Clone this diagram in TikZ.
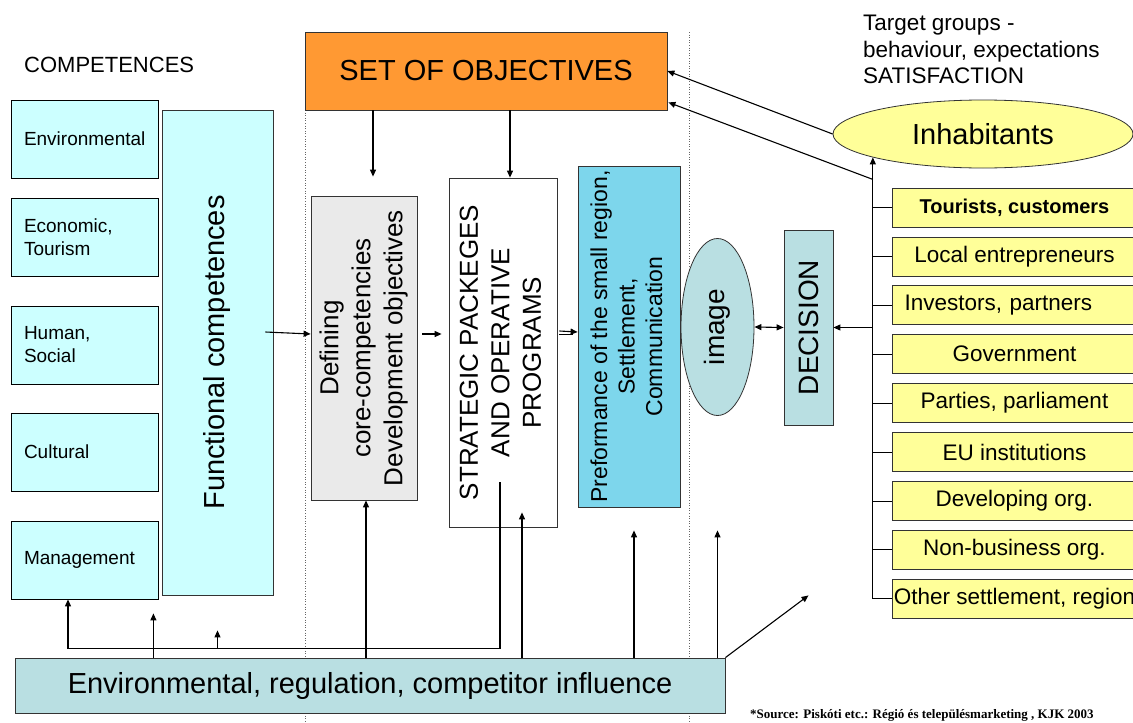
\documentclass[tikz,border=0pt]{standalone}
\usepackage{fontspec}
\setmainfont{Liberation Sans}
\newfontfamily\srcfont{Liberation Serif}
\usepackage{graphicx}
\usetikzlibrary{arrows.meta,calc,shapes.geometric}
\definecolor{compcyan}{HTML}{CCFFFF}
\definecolor{objorange}{HTML}{FF9933}
\definecolor{defgrey}{HTML}{EAEAEA}
\definecolor{perfblue}{HTML}{7DD6EC}
\definecolor{decteal}{HTML}{B9DFE2}
\definecolor{tgyellow}{HTML}{FFFF99}
\newcommand{\fsz}[2]{\fontsize{#1}{#2}\selectfont}
\newcommand{\vtext}[1]{\rotatebox{90}{\begin{tabular}{@{}c@{}}#1\end{tabular}}}

\begin{document}
\begin{tikzpicture}[
    x=1pt, y=-1pt,
    box/.style={rectangle, draw=black!80, line width=0.8pt, inner sep=0pt, align=center},
    comp/.style={box, draw=black, fill=compcyan, minimum width=147pt, minimum height=78pt, text width=121pt, align=left, font=\fsz{19}{23}},
    tgbox/.style={box, fill=tgyellow, minimum width=245pt, minimum height=39pt, font=\fsz{22.5}{26}},
    oval/.style={ellipse, draw=black!80, line width=0.8pt, inner sep=0pt},
    arrow/.style={-{Triangle[length=7pt,width=6pt]}, line width=1.1pt},
    dblarrow/.style={{Triangle[length=7pt,width=6pt]}-{Triangle[length=7pt,width=6pt]}, line width=1.1pt},
    tick/.style={line width=0.8pt},
    sep/.style={dotted, black!60, line width=0.6pt}
]
    \useasboundingbox (0,0) rectangle (1133,723);

    \draw[sep] (305,32) -- (305,723);
    \draw[sep] (689,32) -- (689,723);

    % competences
    \node[anchor=west, inner sep=0pt, font=\fsz{22}{26}] (comptitle) at (24,65) {COMPETENCES};
    \node[comp] (env) at (84.5,139) {Environmental};
    \node[comp] (eco) at (84.5,237) {Economic,\\Tourism};
    \node[comp] (hum) at (84.5,345) {Human,\\Social};
    \node[comp] (cul) at (84.5,452) {Cultural};
    \node[comp] (man) at (84.5,560) {Management};
    \node[box, fill=compcyan, minimum width=111pt, minimum height=485pt, font=\fsz{29}{34}] (func) at (217.5,352.5) {\vtext{Functional competences}};

    % middle column
    \node[box, fill=objorange, minimum width=362pt, minimum height=78pt, font=\fsz{29}{34}] (set) at (486,71) {SET OF OBJECTIVES};
    \node[box, fill=defgrey, minimum width=106pt, minimum height=304pt, font=\fsz{26}{32}] (def) at (364,348) {\vtext{Defining\\core-competencies\\Development objectives}};
    \node[box, fill=white, minimum width=108pt, minimum height=349pt, font=\fsz{26}{31.5}] (strat) at (503,352.5) {\vtext{STRATEGIC PACKEGES\\AND OPERATIVE\\PROGRAMS}};
    \node[box, fill=perfblue, minimum width=102pt, minimum height=341pt, font=\fsz{23}{27.5}] (perf) at (629,336.5) {\vtext{Preformance of the small region,\\Settlement,\\Communication}};
    \node[oval, fill=decteal, minimum width=73pt, minimum height=177pt, font=\fsz{28}{32}] (img) at (717.5,327) {\rotatebox{90}{image}};
    \node[box, fill=decteal, minimum width=49pt, minimum height=195pt, font=\fsz{28}{32}] (dec) at (808.5,327.5) {\rotatebox{90}{DECISION}};
    \node[box, fill=decteal, minimum width=710pt, minimum height=55pt, font=\fsz{29}{34}] (envb) at (370,685.5) {Environmental, regulation, competitor influence};

    % target groups
    \node[anchor=north west, inner sep=0pt, align=left, font=\fsz{22.5}{26.5}] (tgtitle) at (863,15) {Target groups -\\behaviour, expectations\\SATISFACTION};
    \node[oval, fill=tgyellow, minimum width=300pt, minimum height=68pt, font=\fsz{29}{34}] (inh) at (983,134) {Inhabitants};
    \node[tgbox, font=\bfseries\fsz{20}{24}] (tg0) at (1014.5,207.5) {Tourists, customers};
    \node[tgbox] (tg1) at (1014.5,256.4) {Local entrepreneurs};
    \node[tgbox, text width=220pt, align=left] (tg2) at (1014.5,305.3) {Investors, partners};
    \foreach \txt [count=\i from 3] in {Government, {Parties, parliament}, EU institutions, Developing org., Non-business org., {Other settlement, region}}
        \node[tgbox] (tg\i) at (1014.5,207.5+48.9*\i) {\txt};

    \node[anchor=west, inner sep=0pt, font=\srcfont\bfseries\fsz{13}{15}] (source) at (750,715) {*Source: Piskóti etc.: Régió és településmarketing , KJK 2003};

    % connectors
    \draw[arrow] ($(func.east)+(-8,-20.5)$) -- ($(def.west)+(0,-14)$);
    \draw[arrow] ($(set.south)+(-113,0)$) -- ($(def.north)+(9,-19)$);
    \draw[arrow] ($(set.south)+(24,0)$) -- ($(strat.north)+(7,0)$);
    \draw[arrow] ($(def.east)+(5,-14)$) -- ($(strat.west)+(-7,-18.5)$);
    \draw[arrow] ($(strat.east)+(2,-21.5)$) -- ($(perf.west)+(0,-4.5)$);
    \draw[line width=1.1pt] ($(strat.east)+(2,-18)$) -- ($(perf.west)+(-5,-2)$);
    \draw[dblarrow] (img.east) -- (dec.west);

    \coordinate (spine) at (inh.192);
    \draw[arrow] (tg8.west) -| (spine);
    \foreach \i in {0,...,7}
        \draw[tick] (tg\i.west) -- (tg\i.west -| spine);
    \draw[arrow] (dec.east -| spine) -- (dec.east);
    \draw[arrow] (inh.west) -- (set.east);
    \draw[arrow] ($(spine)+(0,22)$) -- ($(set.south east)+(1,-8)$);

    \draw[arrow] ($(strat.south)+(-3,-45)$) |- ($(man.south)+(-16.5,49)$) -- ($(man.south)+(-16.5,0)$);
    \draw[arrow] ($(func.south)+(0,53)$) -- ($(func.south)+(0,35)$);
    \draw[arrow] ($(envb.north -| man.east)+(-5,0)$) -- ($(man.south east)+(-5,14)$);
    \draw[arrow] ($(envb.north -| def.south)+(2,0)$) -- ($(def.south)+(2,0)$);
    \draw[arrow] ($(envb.north -| strat.south)+(19,0)$) -- ($(strat.south)+(19,-15)$);
    \draw[arrow] ($(envb.north -| perf.south)+(5,0)$) -- ($(perf.south)+(5,23)$);
    \draw[arrow] (envb.north -| img.south) -- ($(img.south)+(0,114.5)$);
    \draw[arrow] (envb.north east) -- ($(dec.south)+(0,170)$);
\end{tikzpicture}
\end{document}
